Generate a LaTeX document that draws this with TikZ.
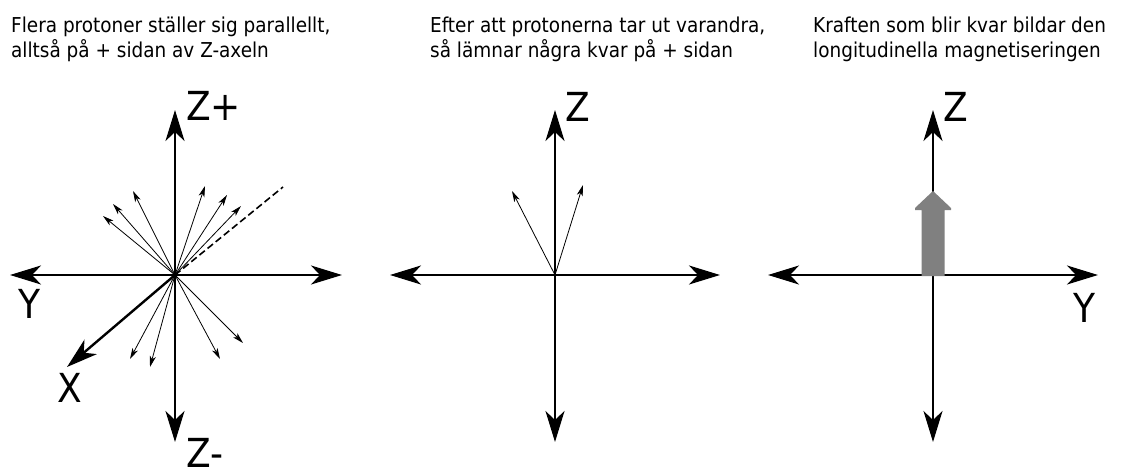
\documentclass[tikz,border=0pt]{standalone}
\usepackage{fontspec}
\setmainfont{DejaVu Sans Condensed}
\newfontfamily\lblfont{DejaVu Sans Condensed}
\usetikzlibrary{arrows.meta}
\definecolor{arrowgray}{RGB}{128,128,128}
\tikzset{
  bighead/.tip={Stealth[length=31pt,width=19pt,inset=9pt]},
  axis/.style={line width=2.4pt,{bighead}-{bighead}},
  xaxis/.style={line width=2.4pt,-{bighead}},
  thinarrow/.style={line width=0.8pt,-{Stealth[length=11pt,width=6pt,inset=3pt]}},
  caption/.style={anchor=base west,inner sep=0pt,font=\fontsize{20.5}{25}\selectfont},
  axlabel/.style={anchor=base west,inner sep=0pt,font=\lblfont\fontsize{40}{40}\selectfont},
}
\begin{document}
\begin{tikzpicture}[x=1pt,y=-1pt]
\useasboundingbox[fill=white] (0,0) rectangle (1126,471);
% captions
\node[caption] (c1a) at (11,32) {Flera protoner ställer sig parallellt,};
\node[caption] (c1b) at (11,57) {alltså på + sidan av Z-axeln};
\node[caption] (c2a) at (430,32) {Efter att protonerna tar ut varandra,};
\node[caption] (c2b) at (430,57) {så lämnar några kvar på + sidan};
\node[caption] (c3a) at (813,32) {Kraften som blir kvar bildar den};
\node[caption] (c3b) at (813,57) {longitudinella magnetiseringen};
% ---------- panel 1
\coordinate (o1) at (175,275);
\coordinate (t1) at (175,110);
\coordinate (b1) at (175,442);
\coordinate (l1) at (10,275);
\coordinate (r1) at (342,275);
\coordinate (x1) at (67,367);
\coordinate (d1) at (283,187);
\coordinate (p1a) at (103,216);
\coordinate (p1b) at (113,204);
\coordinate (p1c) at (133,191);
\coordinate (p1d) at (205,186);
\coordinate (p1e) at (227,195);
\coordinate (p1f) at (241,206);
\coordinate (p1g) at (130,359);
\coordinate (p1h) at (150,367);
\coordinate (p1i) at (220,359);
\coordinate (p1j) at (243,343);
\draw[axis] (b1) -- (t1);
\draw[axis] (l1) -- (r1);
\draw[xaxis] (o1) -- (x1);
\draw[line width=1.6pt,dash pattern=on 7pt off 3.5pt] (o1) -- (d1);
\draw[thinarrow] (o1) -- (p1a);
\draw[thinarrow] (o1) -- (p1b);
\draw[thinarrow] (o1) -- (p1c);
\draw[thinarrow] (o1) -- (p1d);
\draw[thinarrow] (o1) -- (p1e);
\draw[thinarrow] (o1) -- (p1f);
\draw[thinarrow] (o1) -- (p1g);
\draw[thinarrow] (o1) -- (p1h);
\draw[thinarrow] (o1) -- (p1i);
\draw[thinarrow] (o1) -- (p1j);
\node[axlabel] (zp) at (186,120) {Z+};
\node[axlabel] (zm) at (186,467) {Z-};
\node[axlabel] (y1) at (18,318) {Y};
\node[axlabel] (xl) at (57,402) {X};
% ---------- panel 2
\coordinate (o2) at (555,275);
\coordinate (t2) at (555,110);
\coordinate (b2) at (555,442);
\coordinate (l2) at (390,275);
\coordinate (r2) at (720,275);
\coordinate (p2a) at (512,191);
\coordinate (p2b) at (583,185);
\draw[axis] (b2) -- (t2);
\draw[axis] (l2) -- (r2);
\draw[thinarrow] (o2) -- (p2a);
\draw[thinarrow] (o2) -- (p2b);
\node[axlabel] (z2) at (565,121) {Z};
% ---------- panel 3
\coordinate (o3) at (933,275);
\coordinate (t3) at (933,110);
\coordinate (b3) at (933,442);
\coordinate (l3) at (768,275);
\coordinate (r3) at (1098,275);
\draw[axis,line width=2pt] (b3) -- (t3);
\draw[axis,line width=2pt] (l3) -- (r3);
\fill[arrowgray] (921.5,276) -- (921.5,210) -- (915,210) -- (915,208) -- (933,191) -- (951,208) -- (951,210) -- (944.5,210) -- (944.5,276) -- cycle;
\node[axlabel] (z3) at (943,121) {Z};
\node[axlabel] (y3) at (1073,322) {Y};
\end{tikzpicture}
\end{document}
